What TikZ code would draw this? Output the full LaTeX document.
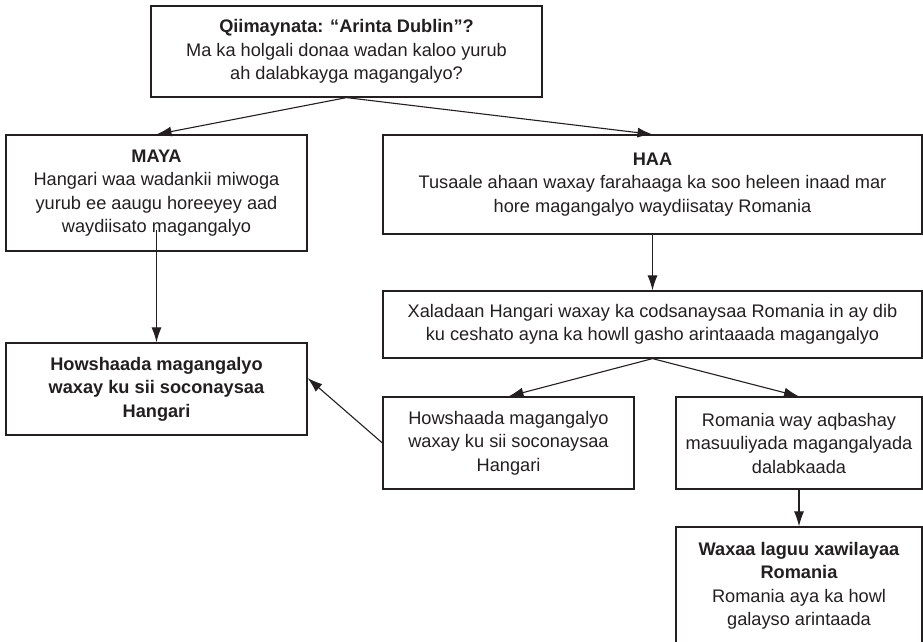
\documentclass[tikz,border=0pt]{standalone}
\usepackage{fontspec}
\setmainfont{Liberation Sans}
\usetikzlibrary{arrows.meta}
\definecolor{ink}{HTML}{231F20}
\tikzset{
	box/.style={draw=ink, text=ink, line width=1.2pt, align=center, inner sep=0pt, font=\fontsize{18.2}{23.5}\selectfont},
	arr/.style={draw=ink, -{Latex[length=15pt,width=10pt]}, line width=1.1pt}
}
\begin{document}
\begin{tikzpicture}[x=1pt,y=-1pt]
	\clip (0,0) rectangle (923,641);
	% boxes
	\node[box, minimum width=391pt, minimum height=91pt] (ask) at (346.5,51.5) {\textbf{Qiimaynata: “Arinta Dublin”?}\\Ma ka holgali donaa wadan kaloo yurub\\ah dalabkayga magangalyo?};
	\node[box, minimum width=301pt, minimum height=116pt] (maya) at (156.5,193) {\textbf{MAYA}\\Hangari waa wadankii miwoga\\yurub ee aaugu horeeyey aad\\waydiisato magangalyo};
	\node[box, minimum width=539pt, minimum height=99pt] (haa) at (652.5,184.5) {\textbf{HAA}\\Tusaale ahaan waxay farahaaga ka soo heleen inaad mar\\hore magangalyo waydiisatay Romania};
	\node[box, minimum width=539pt, minimum height=67pt] (xalad) at (652.5,324.5) {Xaladaan Hangari waxay ka codsanaysaa Romania in ay dib\\ku ceshato ayna ka howll gasho arintaaada magangalyo};
	\node[box, minimum width=301pt, minimum height=92pt] (hunga) at (156.5,389) {\textbf{Howshaada magangalyo}\\\textbf{waxay ku sii soconaysaa}\\\textbf{Hangari}};
	\node[box, minimum width=251pt, minimum height=92pt] (howl) at (508.5,443) {Howshaada magangalyo\\waxay ku sii soconaysaa\\Hangari};
	\node[box, minimum width=246pt, minimum height=92pt] (roma) at (799,443) {Romania way aqbashay\\masuuliyada magangalyada\\dalabkaada};
	\node[box, minimum width=246pt, minimum height=118pt] (xawil) at (799,586) {\textbf{Waxaa laguu xawilayaa}\\\textbf{Romania}\\Romania aya ka howl\\galayso arintaada};
	\coordinate (mayaout) at (156.5,230);
	% arrows
	\draw[arr] (ask.south) -- (maya.north);
	\draw[arr] (ask.south) -- (haa.north);
	\draw[arr] (mayaout) -- (hunga.north);
	\draw[arr] (haa.south) -- (xalad.north);
	\draw[arr] (xalad.south) -- (howl.north);
	\draw[arr] (xalad.south) -- (roma.north);
	\draw[arr] (howl.west) -- ([yshift=11pt]hunga.east);
	\draw[arr] (roma.south) -- (xawil.north);
\end{tikzpicture}
\end{document}
